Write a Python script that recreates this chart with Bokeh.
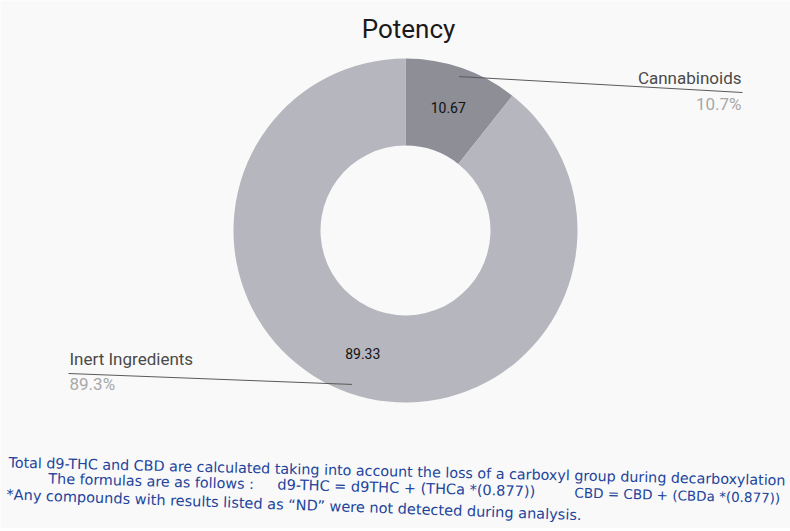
import math
from bokeh.plotting import figure
from bokeh.models import Range1d, ColumnDataSource
from bokeh.core.properties import value
from bokeh.embed import file_html
from bokeh.resources import INLINE

# ---- data ----
categories = ["Cannabinoids", "Inert Ingredients"]
values = [10.67, 89.33]
pct_labels = ["10.7%", "89.3%"]
slice_colors = ["#8d8e96", "#b5b6be"]

W, H = 790, 528
def Y(s):  # screen y -> data y
    return H - s

p = figure(width=W, height=H, output_backend="svg", toolbar_location=None,
           x_range=Range1d(0, W), y_range=Range1d(0, H),
           min_border=0, outline_line_color=None)
p.axis.visible = False
p.grid.visible = False
p.background_fill_color = "#f9f9f9"
p.border_fill_color = "#f9f9f9"

cx, cy = 405, Y(230)
r_in, r_out = 85, 172

total = sum(values)
starts, ends, mids = [], [], []
acc = 0.0
for v in values:
    a0 = math.pi / 2 - 2 * math.pi * (acc + v) / total
    a1 = math.pi / 2 - 2 * math.pi * acc / total
    starts.append(a0); ends.append(a1); mids.append((a0 + a1) / 2)
    acc += v

src = ColumnDataSource(dict(start=starts, end=ends, color=slice_colors))
p.annular_wedge(x=cx, y=cy, inner_radius=r_in, outer_radius=r_out,
                start_angle="start", end_angle="end", fill_color="color",
                line_color=None, source=src)

# value labels inside slices
r_lab = 130
lx = [cx + r_lab * math.cos(m) for m in mids]
ly = [cy + r_lab * math.sin(m) for m in mids]
p.text(x=lx, y=ly, text=[f"{v:.2f}" for v in values], text_align="center",
       text_baseline="middle", text_font=value("Roboto"), text_font_size="14px",
       text_color="#111111")

# leader lines
r_lead = 163
ends_xy = [(742, Y(92)), (68, Y(373))]
for m, (ex, ey) in zip(mids, ends_xy):
    sx = cx + r_lead * math.cos(m)
    sy = cy + r_lead * math.sin(m)
    p.line([sx, ex], [sy, ey], line_color="#5a5a5a", line_width=1)

# outside category labels
lab_style = dict(text_baseline="middle", text_font=value("Roboto"), text_font_size="17px")
p.text(x=[741], y=[Y(77)], text=[categories[0]], text_align="right",
       text_color="#4a4a4a", **lab_style)
p.text(x=[741], y=[Y(103)], text=[pct_labels[0]], text_align="right",
       text_color="#a8a8a8", **lab_style)
p.text(x=[69], y=[Y(358)], text=[categories[1]], text_align="left",
       text_color="#4a4a4a", **lab_style)
p.text(x=[69], y=[Y(383)], text=[pct_labels[1]], text_align="left",
       text_color="#a8a8a8", **lab_style)

# title
p.text(x=[408], y=[Y(28)], text=["Potency"], text_align="center",
       text_baseline="middle", text_font=value("Roboto"), text_font_size="26px",
       text_color="#1a1a1a")

# footnotes (scanned, slightly tilted)
blue = "#22449c"
foot_font = value("DejaVu Sans")
notes = [
    (8, 462, -0.023, "14.3px", "Total d9-THC and CBD are calculated taking into account the loss of a carboxyl group during decarboxylation"),
    (48, 478, -0.027, "14.3px", "The formulas are as follows :"),
    (277, 484, -0.027, "14.5px", "d9-THC =  d9THC + (THCa *(0.877))"),
    (574, 492, -0.027, "13.5px", "CBD = CBD + (CBDa *(0.877))"),
    (6, 494, -0.036, "14.5px", "*Any compounds with results  listed as \u201cND\u201d were not detected during analysis."),
]
for x, s, ang, fs, t in notes:
    p.text(x=[x], y=[Y(s)], text=[t], angle=ang, text_align="left",
           text_baseline="middle", text_font=foot_font, text_font_size=fs,
           text_color=blue)

open("out.html", "w").write(file_html(p, INLINE))
